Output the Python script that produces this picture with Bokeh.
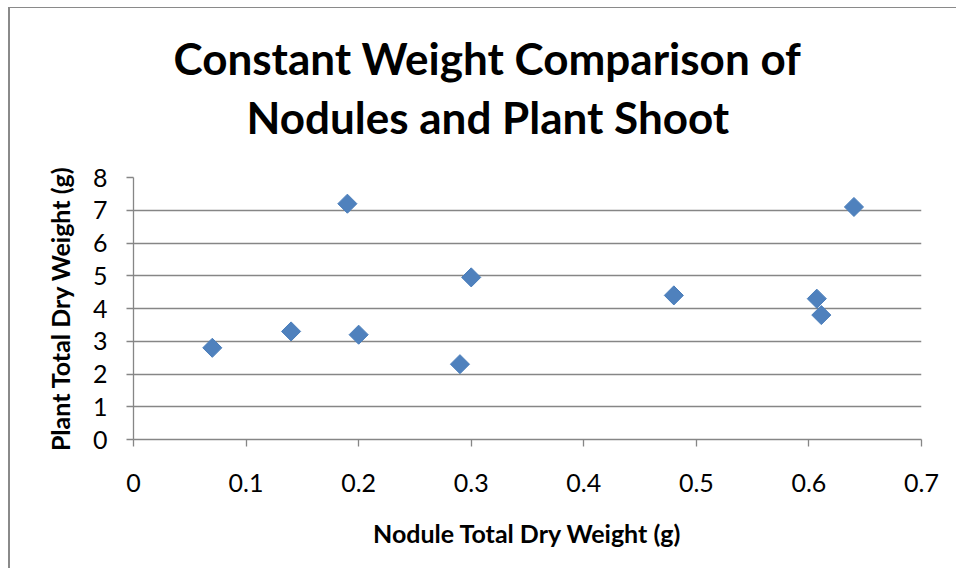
from bokeh.plotting import figure
from bokeh.models import Title, FixedTicker, Range1d, ColumnDataSource
from bokeh.embed import file_html
from bokeh.resources import INLINE

# Data
nodule_weight = [0.07, 0.14, 0.19, 0.20, 0.29, 0.30, 0.48, 0.607, 0.611, 0.64]
plant_weight = [2.8, 3.3, 7.2, 3.2, 2.3, 4.95, 4.4, 4.3, 3.8, 7.1]

x_ticks = [0, 0.1, 0.2, 0.3, 0.4, 0.5, 0.6, 0.7]
x_tick_labels = ["0", "0.1", "0.2", "0.3", "0.4", "0.5", "0.6", "0.7"]
y_ticks = [0, 1, 2, 3, 4, 5, 6, 7, 8]

title_line1 = "Constant Weight Comparison of"
title_line2 = "Nodules and Plant Shoot"
x_label = "Nodule Total Dry Weight (g)"
y_label = "Plant Total Dry Weight (g)"

FONT = "Lato"
GRID = "#868686"

p = figure(width=948, height=561,
           x_range=Range1d(0, 0.7), y_range=Range1d(0, 8),
           output_backend="svg", toolbar_location=None,
           min_border_left=123, min_border_right=37,
           min_border_top=169, min_border_bottom=130)

p.styles = {"margin-left": "8px", "margin-top": "7px",
            "border-left": "2px solid #8a8a8a",
            "border-top": "1px solid #8a8a8a"}

spacer = Title(text=" ", align="left", standoff=30,
               text_font=FONT, text_font_size="1px")
t2 = Title(text=title_line2, align="left", offset=113, standoff=4,
           text_font=FONT, text_font_size="44px", text_font_style="bold",
           text_color="black")
t1 = Title(text=title_line1, align="left", offset=40, standoff=6,
           text_font=FONT, text_font_size="44px", text_font_style="bold",
           text_color="black")
p.add_layout(spacer, "above")
p.add_layout(t2, "above")
p.add_layout(t1, "above")

src = ColumnDataSource(dict(x=nodule_weight, y=plant_weight))
p.scatter("x", "y", source=src, marker="square", size=13.5, angle=0.785398,
          fill_color="#4F81BD", line_color="#4A7EBB", line_width=1)

p.outline_line_color = None
p.xgrid.visible = False
p.ygrid.ticker = FixedTicker(ticks=y_ticks)
p.ygrid.grid_line_color = GRID
p.ygrid.grid_line_width = 1.3

xa = p.xaxis[0]
xa.ticker = FixedTicker(ticks=x_ticks)
xa.major_label_overrides = {t: l for t, l in zip(x_ticks, x_tick_labels)}
xa.axis_line_color = GRID
xa.axis_line_width = 1.3
xa.major_tick_line_color = GRID
xa.major_tick_line_width = 1.3
xa.major_tick_in = 0
xa.major_tick_out = 7
xa.minor_tick_line_color = None
xa.major_label_standoff = 27
xa.major_label_text_font = FONT
xa.major_label_text_font_size = "25px"
xa.major_label_text_color = "black"
xa.axis_label = x_label
xa.axis_label_text_font = FONT
xa.axis_label_text_font_size = "25px"
xa.axis_label_text_font_style = "bold"
xa.axis_label_text_color = "black"
xa.axis_label_standoff = 23

ya = p.yaxis[0]
ya.ticker = FixedTicker(ticks=y_ticks)
ya.axis_line_color = GRID
ya.axis_line_width = 1.3
ya.major_tick_line_color = GRID
ya.major_tick_line_width = 1.3
ya.major_tick_in = 0
ya.major_tick_out = 7
ya.minor_tick_line_color = None
ya.major_label_standoff = 19
ya.major_label_text_font = FONT
ya.major_label_text_font_size = "25px"
ya.major_label_text_color = "black"
ya.axis_label = y_label
ya.axis_label_text_font = FONT
ya.axis_label_text_font_size = "25px"
ya.axis_label_text_font_style = "bold"
ya.axis_label_text_color = "black"
ya.axis_label_standoff = 15

open("out.html", "w").write(file_html(p, INLINE))
